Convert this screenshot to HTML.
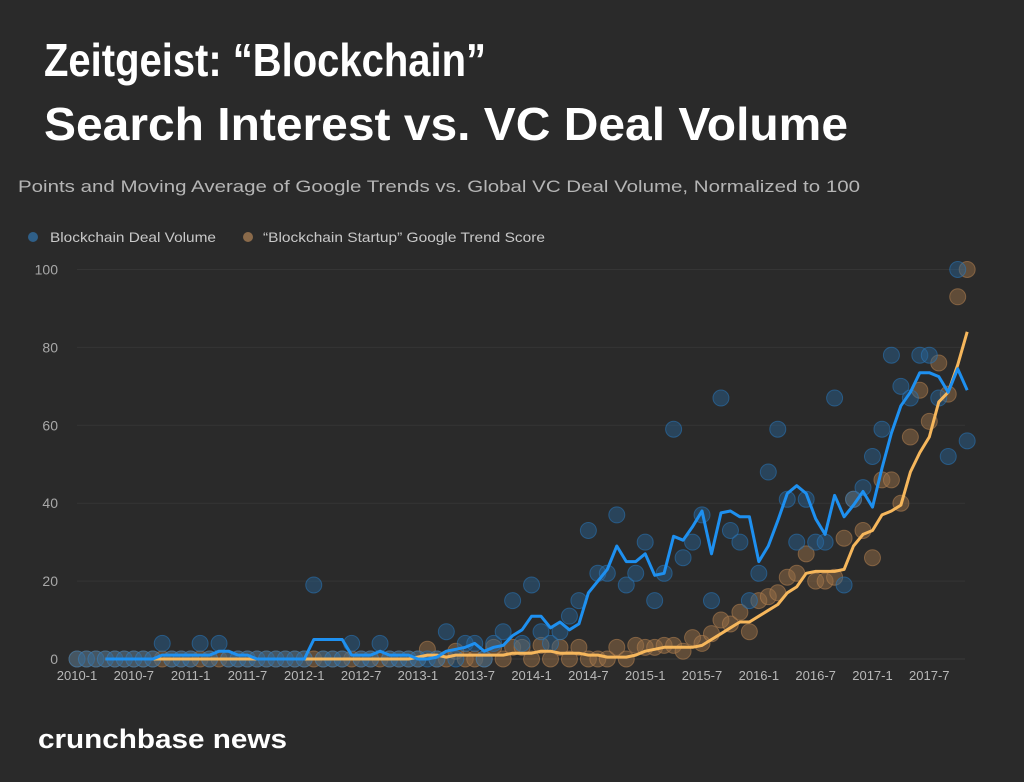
<!DOCTYPE html>
<html><head><meta charset="utf-8"><style>
html,body{margin:0;padding:0;background:#2a2a2a;}
svg{display:block;}
</style></head><body>
<svg id="chart" width="1024" height="782" xmlns="http://www.w3.org/2000/svg" font-family="Liberation Sans, sans-serif">
<rect width="1024" height="782" fill="#2a2a2a"/>
<text x="44" y="76" fill="#fff" font-size="46" font-weight="bold" textLength="442" lengthAdjust="spacingAndGlyphs">Zeitgeist: “Blockchain”</text>
<text x="44" y="140" fill="#fff" font-size="46" font-weight="bold" textLength="804" lengthAdjust="spacingAndGlyphs">Search Interest vs. VC Deal Volume</text>
<text x="18" y="192" fill="#b5b5b5" font-size="17" textLength="842" lengthAdjust="spacingAndGlyphs">Points and Moving Average of Google Trends vs. Global VC Deal Volume, Normalized to 100</text>
<g>
<g>
<circle cx="33" cy="237" r="5" fill="#2f5f88"/>
<text x="50" y="242" fill="#c8c8c8" font-size="14" textLength="166" lengthAdjust="spacingAndGlyphs">Blockchain Deal Volume</text></g>
<g>
<circle cx="248" cy="237" r="5" fill="#8a6a4a"/>
<text x="263" y="242" fill="#c8c8c8" font-size="14" textLength="282" lengthAdjust="spacingAndGlyphs">“Blockchain Startup” Google Trend Score</text></g>
</g>
<g id="grid"></g>
<g id="yaxis"></g>
<g id="xaxis"></g>
<g id="pts"></g>
<g id="lines"></g>
<text x="38" y="748" fill="#fff" font-size="27" font-weight="bold" textLength="249" lengthAdjust="spacingAndGlyphs">crunchbase news</text>
</svg>
<script>
const yTicks=[0,20,40,60,80,100];
const xLabels=["2010-1","2010-7","2011-1","2011-7","2012-1","2012-7","2013-1","2013-7","2014-1","2014-7","2015-1","2015-7","2016-1","2016-7","2017-1","2017-7"];
const dealVolume=[0,0,0,0,0,0,0,0,0,4,0,0,0,4,0,4,0,0,0,0,0,0,0,0,0,19,0,0,0,4,0,0,4,0,0,0,0,0,0,7,0,4,4,0,4,7,15,4,19,7,4,7,11,15,33,22,22,37,19,22,30,15,22,59,26,30,37,15,67,33,30,15,22,48,59,41,30,41,30,30,67,19,41,44,52,59,78,70,67,78,78,67,52,100,56];
const trendScore=[0,0,0,0,0,0,0,0,0,0,0,0,0,0,0,0,0,0,0,0,0,0,0,0,0,0,0,0,0,0,0,0,0,0,0,0,0,2.5,0,0,2,0,0,0,3,0,3,3,0,3.5,0,3,0,3,0,0,0,3,0,3.5,3,3,3.5,3.5,2,5.5,4,6.5,10,9,12,7,15,16,17,21,22,27,20,20,21,31,41,33,26,46,46,40,57,69,61,76,68,93,100];
const dealMA=[null,null,null,0,0,0,0,0,0,1,1,1,1,1,1,2,2,1,1,0,0,0,0,0,0,5,5,5,5,1,1,1,2,1,1,1,0,0,0.5,2,2.5,3,4,2,3,3.5,6,7.5,11,11,8,9.5,7.5,9,17,20,23,29,25,25,27,21.5,22,31.5,30.5,34,38,27,37.5,38,36.5,36.5,25,29,35.5,42.5,44.5,42.5,36,32,42,36.5,39.5,43,39,49,58,65,68.5,73.5,73.5,72.5,68.5,74.5,69];
const trendMA=[null,null,null,0,0,0,0,0,0,0,0,0,0,0,0,0,0,0,0,0,0,0,0,0,0,0,0,0,0,0,0,0,0,0,0,0,0.5,1,1,0.5,1,1,1,1,1,1,1.5,1.5,1.5,2,2,1.5,1.5,1.5,1,1,0.5,0.5,0.5,1,2,2.5,3,3,3,3,3.5,5,6.5,8,9.5,9.5,11,12.5,14,17,18.5,22,22.5,22.5,22.5,23,29,32,33,37,38,39.5,48,53,57,66,68.5,75.5,84];

const NS="http://www.w3.org/2000/svg";
const X=m=>77+m*9.47;
const Y=v=>659-v*3.895;
function mk(tag,attrs,parent){const e=document.createElementNS(NS,tag);for(const k in attrs)e.setAttribute(k,attrs[k]);parent.appendChild(e);return e;}
const grid=document.getElementById('grid'),ya=document.getElementById('yaxis'),xa=document.getElementById('xaxis'),pts=document.getElementById('pts'),lines=document.getElementById('lines');
yTicks.forEach(t=>{
  const l=mk('line',{x1:77,x2:965,y1:Y(t),y2:Y(t),stroke:t===0?'#3a3a3a':'#353535','stroke-width':1},grid);
  
  
  const tx=mk('text',{x:58,y:Y(t)+5,fill:'#a8a8a8','font-size':14,'text-anchor':'end'},ya);
  tx.textContent=t;
  
  
});
xLabels.forEach((s,i)=>{
  const tx=mk('text',{x:X(i*6),y:680,fill:'#b8b8b8','font-size':13,'text-anchor':'middle'},xa);
  tx.textContent=s;
  
  
});
function dots(arr,fill,stroke,name){
  arr.forEach((v,i)=>{
    const c=mk('circle',{cx:X(i),cy:Y(v),r:8,fill:fill,stroke:stroke,'stroke-width':1},pts);
    
    
  });
}
dots(trendScore,'rgba(150,110,70,0.5)','rgba(180,130,80,0.55)','trend');
dots(dealVolume,'rgba(40,100,150,0.45)','rgba(40,120,190,0.55)','deal');
function line(arr,color,name){
  let d='';arr.forEach((v,i)=>{if(v===null)return;d+=(d?'L':'M')+X(i).toFixed(1)+','+Y(v).toFixed(1);});
  const p=mk('path',{d:d,fill:'none',stroke:color,'stroke-width':3,'stroke-linejoin':'round'},lines);
  
  
}
line(trendMA,'#f6b75c','trend-moving-average');
line(dealMA,'#1e90f0','deal-moving-average');
</script>
</body></html>
